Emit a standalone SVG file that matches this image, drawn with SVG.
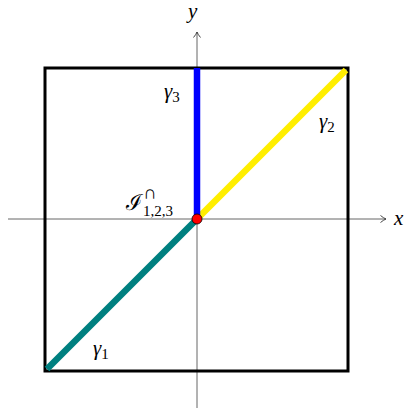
<svg xmlns="http://www.w3.org/2000/svg" width="407" height="413" viewBox="0 0 407 413">
<style>
.axis{stroke:#555;stroke-width:0.9;fill:none}
text{font-family:'Liberation Serif','DejaVu Serif',serif;fill:#000}
.m{font-style:italic}
.n{font-style:normal}
</style>
<defs>
<marker id="arr" markerWidth="10" markerHeight="10" refX="7" refY="5" orient="auto" markerUnits="userSpaceOnUse">
<path d="M1.5,1.5 Q4.5,4 7,5 Q4.5,6 1.5,8.5" fill="none" stroke="#333" stroke-width="0.9"/>
</marker>
</defs>
<rect width="407" height="413" fill="#fff"/>
<g id="connectors">
<line class="axis" x1="8" y1="219" x2="386" y2="219" marker-end="url(#arr)"/>
<line class="axis" x1="197" y1="408" x2="197" y2="32" marker-end="url(#arr)"/>
</g>
<g id="square"><rect x="45" y="68" width="303" height="303" fill="none" stroke="#000" stroke-width="3"/></g>
<g id="gamma1"><line x1="197" y1="219" x2="47" y2="369" stroke="#008080" stroke-width="6.5"/><text class="m" x="93" y="355" font-size="21" font-family="DejaVu Serif">γ<tspan class="n" font-size="15" dy="4" font-family="Liberation Serif">1</tspan></text></g>
<g id="gamma2"><line x1="197" y1="219" x2="346" y2="70" stroke="#ffee00" stroke-width="6.5"/><text class="m" x="319" y="128" font-size="21" font-family="DejaVu Serif">γ<tspan class="n" font-size="15" dy="4" font-family="Liberation Serif">2</tspan></text></g>
<g id="gamma3"><line x1="197" y1="219" x2="197" y2="68" stroke="#0000ff" stroke-width="6.5"/><text class="m" x="164" y="98" font-size="21" font-family="DejaVu Serif">γ<tspan class="n" font-size="15" dy="4" font-family="Liberation Serif">3</tspan></text></g>
<g id="origin"><circle cx="197" cy="219" r="5" fill="#ff0000" stroke="#000" stroke-width="0.8"/>
<text x="126" y="210" font-size="22">ℐ</text>
<text class="n" x="143" y="216" font-size="15" font-family="Liberation Serif">1,2,3</text>
<text class="n" x="143" y="199" font-size="19" font-family="DejaVu Serif">∩</text></g>
<g id="labels">
<text class="m" x="394" y="225" font-size="21" font-family="Liberation Serif">x</text>
<text class="m" x="188" y="18" font-size="21" font-family="Liberation Serif">y</text>
</g>
</svg>
